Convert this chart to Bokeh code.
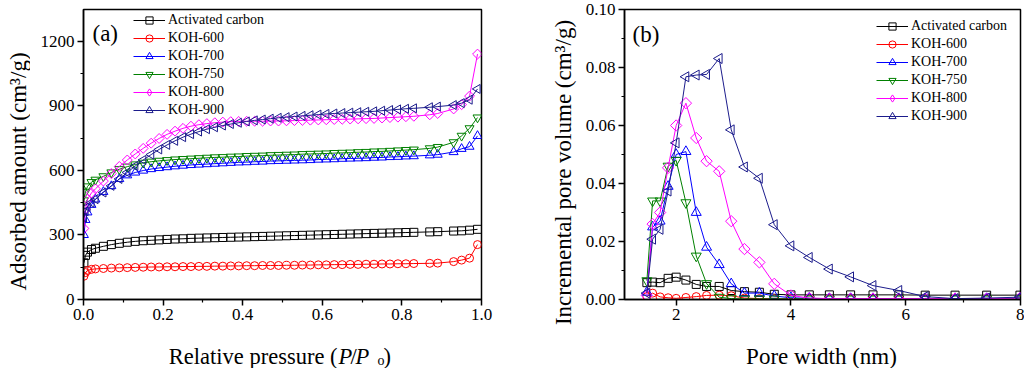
import math
from bokeh.plotting import figure
from bokeh.layouts import row, column
from bokeh.models import Legend, LegendItem, Label, FixedTicker, Range1d
from bokeh.embed import file_html
from bokeh.resources import INLINE

# ---------------- data: panel (a) N2 isotherms ----------------
p_rel = [0.001, 0.005, 0.01, 0.02, 0.03, 0.05, 0.07, 0.09, 0.11, 0.13, 0.15, 0.17, 0.19,
         0.21, 0.23, 0.25, 0.27, 0.29, 0.31, 0.33, 0.35, 0.37, 0.39, 0.41, 0.43, 0.45,
         0.47, 0.49, 0.51, 0.53, 0.55, 0.57, 0.59, 0.61, 0.63, 0.65, 0.67, 0.69, 0.71,
         0.73, 0.75, 0.77, 0.79, 0.81, 0.83, 0.87, 0.89, 0.93, 0.95, 0.97, 0.99]
ads_ac = [170, 205, 220, 232, 238, 247, 255, 261, 266, 270, 273, 275, 277, 279, 281,
          282, 284, 285, 286, 287, 288, 289, 290, 291, 292, 293, 294, 295, 296, 297,
          298, 299, 300, 301, 302, 303, 304, 305, 306, 307, 308, 309, 310, 311, 312,
          314, 315, 318, 319, 322, 326]
ads_600 = [108, 125, 135, 140, 142, 144, 146, 147, 148, 149, 150, 151, 151, 152, 152,
           153, 153, 154, 154, 155, 155, 156, 156, 157, 157, 158, 158, 158, 159, 159,
           160, 160, 161, 161, 162, 162, 163, 163, 164, 164, 165, 165, 166, 166, 167,
           168, 169, 176, 183, 192, 255]
ads_700 = [300, 370, 405, 440, 465, 500, 527, 560, 577, 590, 599, 606, 611, 615, 619,
           622, 625, 627, 629, 631, 633, 635, 637, 638, 640, 641, 643, 644, 645, 646,
           647, 648, 650, 651, 652, 654, 655, 656, 657, 659, 660, 662, 663, 665, 666,
           670, 673, 685, 700, 710, 760]
ads_750 = [460, 500, 525, 545, 556, 572, 590, 605, 617, 627, 635, 640, 644, 647, 650,
           652, 654, 656, 658, 660, 661, 663, 664, 666, 667, 668, 670, 671, 672, 673,
           675, 676, 677, 678, 680, 681, 682, 684, 685, 687, 688, 690, 692, 694, 696,
           702, 708, 730, 760, 795, 845]
ads_800 = [330, 420, 465, 495, 514, 550, 585, 618, 648, 676, 702, 726, 748, 767, 782,
           795, 805, 812, 817, 821, 824, 826, 827, 828, 828, 828, 829, 829, 830, 831,
           832, 833, 834, 835, 836, 837, 838, 839, 840, 841, 843, 845, 847, 849, 851,
           858, 864, 885, 905, 945, 1140]
ads_900 = [380, 410, 430, 450, 466, 497, 528, 560, 590, 620, 648, 673, 697, 718, 737,
           754, 768, 780, 791, 800, 808, 815, 821, 827, 832, 836, 840, 844, 847, 850,
           853, 856, 859, 862, 864, 866, 868, 870, 872, 874, 877, 880, 883, 886, 888,
           893, 896, 903, 912, 928, 978]

# ---------------- data: panel (b) pore size distribution ----------------
pore_w = [1.49, 1.59, 1.72, 1.86, 2.0, 2.17, 2.35, 2.53, 2.75, 2.96, 3.19, 3.45, 3.71,
          4.0, 4.32, 4.67, 5.04, 5.43, 5.88, 6.34, 6.86, 7.41, 7.99]
pv_ac = [0.0058, 0.006, 0.0058, 0.0073, 0.0077, 0.0067, 0.0052, 0.0045, 0.0045, 0.0031,
         0.0027, 0.0025, 0.0018, 0.0016, 0.0016, 0.0016, 0.0016, 0.0016, 0.0016, 0.0015,
         0.0015, 0.0015, 0.0015]
pv_600 = [0.001, 0.0022, 0.0009, 0.0006, 0.0004, 0.0007, 0.001, 0.0014, 0.0015, 0.0013,
          0.0005, 0.0003, 0.0002, 0.0002, 0.0002, 0.0002, 0.0002, 0.0002, 0.0002, 0.0002,
          0.0002, 0.0002, 0.0002]
pv_700 = [0.0025, 0.025, 0.027, 0.039, 0.050, 0.051, 0.030, 0.018, 0.012, 0.0054, 0.0022,
          0.0022, 0.0012, 0.0006, 0.0004, 0.0003, 0.0003, 0.0003, 0.0003, 0.0003, 0.0003,
          0.0003, 0.0003]
pv_750 = [0.0065, 0.034, 0.034, 0.046, 0.048, 0.0334, 0.015, 0.0055, 0.0008, 0.0003,
          0.0002, 0.0002, 0.0002, 0.0002, 0.0002, 0.0002, 0.0002, 0.0002, 0.0002, 0.0002,
          0.0002, 0.0002, 0.0002]
pv_800 = [0.0014, 0.026, 0.030, 0.0454, 0.060, 0.0677, 0.0557, 0.0477, 0.0442, 0.027,
          0.0174, 0.0128, 0.0054, 0.0014, 0.0005, 0.0003, 0.0003, 0.0003, 0.0003, 0.0003,
          0.0003, 0.0003, 0.0005]
pv_900 = [0.0022, 0.0208, 0.0242, 0.0374, 0.054, 0.0768, 0.0774, 0.0776, 0.0831, 0.0585,
          0.0457, 0.0418, 0.0258, 0.0185, 0.0145, 0.0105, 0.0078, 0.0048, 0.0031, 0.001,
          0.0003, 0.0005, 0.0008]

series_names = ["Activated carbon", "KOH-600", "KOH-700", "KOH-750", "KOH-800", "KOH-900"]
colors = ["#000000", "#FF0000", "#0000FF", "#008000", "#FF00FF", "#1C1C8C"]
# (plot marker, rotation, legend marker)
markers = [("square", 0.0, None), ("circle", 0.0, None), ("triangle", 0.0, None),
           ("inverted_triangle", 0.0, None), ("square", math.pi / 4, "diamond"),
           ("triangle", math.pi / 2, None)]

# tick labels
a_xticks = [0.0, 0.2, 0.4, 0.6, 0.8, 1.0]
a_xlabels = ["0.0", "0.2", "0.4", "0.6", "0.8", "1.0"]
a_xminor = [0.1, 0.3, 0.5, 0.7, 0.9]
a_yticks = [0, 300, 600, 900, 1200]
a_ylabels = ["0", "300", "600", "900", "1200"]
a_yminor = [150, 450, 750, 1050]
b_xticks = [2, 4, 6, 8]
b_xlabels = ["2", "4", "6", "8"]
b_xminor = [3, 5, 7]
b_yticks = [0.0, 0.02, 0.04, 0.06, 0.08, 0.10]
b_ylabels = ["0.00", "0.02", "0.04", "0.06", "0.08", "0.10"]
b_yminor = [0.01, 0.03, 0.05, 0.07, 0.09]

FONT = "Liberation Serif"


def style_axis(ax, ticks, minor, labels):
    ax.ticker = FixedTicker(ticks=ticks, minor_ticks=minor)
    ax.major_label_overrides = {t: l for t, l in zip(ticks, labels)}
    ax.axis_line_color = "black"
    ax.axis_line_width = 1.5
    ax.major_tick_line_color = "black"
    ax.major_tick_line_width = 1.5
    ax.minor_tick_line_color = "black"
    ax.minor_tick_line_width = 1.2
    ax.major_tick_in = 0
    ax.major_tick_out = 6
    ax.minor_tick_in = 0
    ax.minor_tick_out = 3
    ax.major_label_text_font = FONT
    ax.major_label_text_font_size = "17px"
    ax.major_label_text_color = "black"
    ax.major_label_standoff = 3


def make_panel(xs, ys_list, width, height, xr, yr, mb, sizes):
    p = figure(width=width, height=height, x_range=Range1d(*xr), y_range=Range1d(*yr),
               output_backend="svg", toolbar_location=None,
               min_border_left=mb[0], min_border_right=mb[1],
               min_border_top=mb[2], min_border_bottom=mb[3])
    p.grid.visible = False
    p.outline_line_color = "black"
    p.outline_line_width = 1.5
    p.outline_line_alpha = 1.0
    p.background_fill_color = "white"
    p.border_fill_color = "white"
    items = []
    for name, ys, col, (mk, ang, lmk), sz in zip(series_names, ys_list, colors, markers, sizes):
        lr = p.line(xs, ys, line_color=col, line_width=1)
        sr = p.scatter(xs, ys, marker=mk, angle=ang, size=sz, line_color=col,
                       line_width=1, fill_color=None)
        rends = [lr, sr]
        if lmk is not None:
            # hidden twin used only for the legend sample
            lgr = p.scatter(xs, ys, marker=lmk, size=sz, line_color=col,
                            line_width=1, fill_color=None, visible=False)
            rends = [lr, lgr]
        items.append(LegendItem(label=name, renderers=rends))
    return p, items


def add_legend(p, items, loc):
    lg = Legend(items=items, location=loc, border_line_color=None,
                background_fill_alpha=0.0, padding=0, margin=0, spacing=0,
                glyph_width=32, glyph_height=18, label_height=18, label_standoff=3,
                label_text_font=FONT, label_text_font_size="14px",
                label_text_color="black")
    p.add_layout(lg)


def add_text(p, x, y, text, size="23px", angle=0.0, align="left", baseline="alphabetic",
             style="normal"):
    p.add_layout(Label(x=x, y=y, x_units="screen", y_units="screen", text=text,
                       text_font=FONT, text_font_size=size, text_font_style=style,
                       angle=angle, text_align=align, text_baseline=baseline,
                       text_color="black"))


def strip(width, height):
    s = figure(width=width, height=height, x_range=Range1d(0, 1), y_range=Range1d(0, 1),
               output_backend="svg", toolbar_location=None, title=None,
               x_axis_type=None, y_axis_type=None,
               min_border_left=0, min_border_right=0, min_border_top=0, min_border_bottom=0)
    s.grid.visible = False
    s.outline_line_color = None
    s.background_fill_color = "white"
    s.border_fill_color = "white"
    return s


# ---------------- panel (a) ----------------
pa, items_a = make_panel(p_rel, [ads_ac, ads_600, ads_700, ads_750, ads_800, ads_900],
                         482, 330, (0.0, 1.0), (0, 1347), (53, 31, 9, 31),
                         [8, 8, 9, 9, 7, 9])
style_axis(pa.xaxis[0], a_xticks, a_xminor, a_xlabels)
style_axis(pa.yaxis[0], a_yticks, a_yminor, a_ylabels)
add_legend(pa, items_a, (50, 180))
add_text(pa, 9, 266, "(a)", baseline="middle")

ya = strip(30, 368)
add_text(ya, 18, 197, "Adsorbed amount (cm\u00b3/g)", angle=math.pi / 2,
         align="center", baseline="middle")

# x-label strip: its frame lines up with the panel frame (left edge at the y axis)
xa = strip(482, 38)
add_text(xa, 254, 12, "Relative pressure (", size="22.5px", align="right")
add_text(xa, 255, 12, "P", size="22.5px", style="italic")
add_text(xa, 267, 12, "/", size="22.5px")
add_text(xa, 272, 12, "P", size="22.5px", style="italic")
add_text(xa, 294, 8, "o", size="14px")
add_text(xa, 300, 12, ")", size="22.5px")

# ---------------- panel (b) ----------------
pb, items_b = make_panel(pore_w, [pv_ac, pv_600, pv_700, pv_750, pv_800, pv_900],
                         446, 330, (1.1, 8.0), (0.0, 0.1), (46, 4, 9, 31),
                         [8, 8, 10, 10, 8, 10])
style_axis(pb.xaxis[0], b_xticks, b_xminor, b_xlabels)
style_axis(pb.yaxis[0], b_yticks, b_yminor, b_ylabels)
add_legend(pb, items_b, (252, 174))
add_text(pb, 8, 265, "(b)", baseline="middle")

yb = strip(66, 368)
add_text(yb, 51, 196, "Incremental pore volume (cm\u00b3/g)", angle=math.pi / 2,
         align="center", baseline="middle")

xb = strip(446, 38)
add_text(xb, 197, 12, "Pore width (nm)", align="center")

layout = row(ya, column(pa, xa), yb, column(pb, xb))
open("out.html", "w").write(file_html(layout, INLINE))
